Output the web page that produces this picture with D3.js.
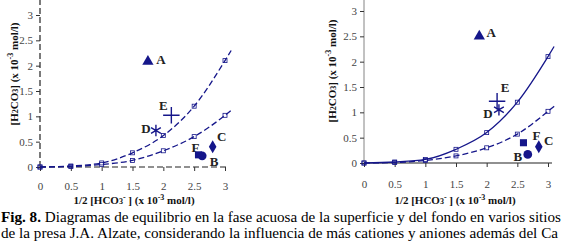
<!DOCTYPE html>
<html>
<head>
<meta charset="utf-8">
<script src="https://cdn.jsdelivr.net/npm/d3@7"></script>
<style>
  body { margin: 0; background: #fff; }
  svg { display: block; }
  svg text { font-family: "Liberation Serif", "Times New Roman", "DejaVu Serif", serif; }
</style>
</head>
<body>
<svg width="562" height="245"></svg>
<script>
// x values shared by the fitted curves
var curveX = [0, 0.5, 1, 1.5, 2, 2.5, 3, 3.1];
// left panel curves (superficie)
var leftUpper = [0, 0.02, 0.08, 0.28, 0.62, 1.2, 2.1, 2.3];
var leftLower = [0, 0.01, 0.05, 0.13, 0.32, 0.6, 1.02, 1.12];
// right panel curves (fondo)
var rightUpper = [0, 0.02, 0.07, 0.27, 0.6, 1.2, 2.1, 2.3];
var rightLower = [0, 0.01, 0.05, 0.14, 0.3, 0.57, 1.02, 1.12];

// sampling sites
var siteNames = ["A", "B", "C", "D", "E", "F"];
var siteShapes = ["triangle", "circle", "diamond", "star", "cross", "square"];
var leftSiteX = [1.75, 2.63, 2.8, 1.88, 2.13, 2.57];
var leftSiteY = [2.08, 0.22, 0.4, 0.72, 1.02, 0.24];
var rightSiteX = [1.88, 2.67, 2.85, 2.2, 2.17, 2.6];
var rightSiteY = [2.5, 0.17, 0.32, 1.05, 1.22, 0.4];

var ticks = [0, 0.5, 1, 1.5, 2, 2.5, 3];
var tickLabels = ["0", "0.5", "1", "1.5", "2", "2.5", "3"];

var blue = "#15168a";
var svg = d3.select("svg");

function panel(opt) {
  var x = d3.scaleLinear().domain([0, 3]).range(opt.xr);
  var y = d3.scaleLinear().domain([0, 3]).range(opt.yr);
  var g = svg.append("g");

  // axes
  var dash = opt.dashedAxes ? "6,3" : null;
  g.append("line")
    .attr("x1", x(0)).attr("x2", x(0))
    .attr("y1", y(0)).attr("y2", opt.yTop)
    .attr("stroke", opt.dashedAxes ? "#222" : "#666").attr("stroke-width", opt.dashedAxes ? 1.2 : 0.8)
    .attr("stroke-dasharray", dash);
  g.append("line")
    .attr("x1", x(0)).attr("x2", x(3) + 4)
    .attr("y1", y(0)).attr("y2", y(0))
    .attr("stroke", "#222").attr("stroke-width", 1.2)
    .attr("stroke-dasharray", dash);

  var xa = g.append("g")
    .attr("transform", "translate(0," + y(0) + ")")
    .call(d3.axisBottom(x).tickValues(ticks).tickSize(4).tickPadding(opt.xPad)
      .tickFormat(function(d, i) { return tickLabels[i]; }));
  var ya = g.append("g")
    .attr("transform", "translate(" + x(0) + ",0)")
    .call(d3.axisLeft(y).tickValues(ticks).tickSize(4).tickPadding(3)
      .tickFormat(function(d, i) { return tickLabels[i]; }));
  [xa, ya].forEach(function(a) {
    a.attr("font-family", null).attr("font-size", 11);
    a.select(".domain").remove();
    a.selectAll("line").attr("stroke", "#333");
    a.selectAll("text").attr("fill", "#444");
  });

  // curves
  var line = d3.line()
    .x(function(d) { return x(d[0]); })
    .y(function(d) { return y(d[1]); })
    .curve(d3.curveMonotoneX);
  [opt.upper, opt.lower].forEach(function(vals, k) {
    var pts = curveX.map(function(v, i) { return [v, vals[i]]; });
    g.append("path")
      .datum(pts)
      .attr("fill", "none")
      .attr("stroke", blue)
      .attr("stroke-width", 1.3)
      .attr("stroke-dasharray", (k === 0 && opt.solidUpper) ? null : "6,3")
      .attr("d", line);
    g.selectAll(null)
      .data(pts.slice(0, 7))
      .enter().append("rect")
      .attr("x", function(d) { return x(d[0]) - 2; })
      .attr("y", function(d) { return y(d[1]) - 2; })
      .attr("width", 4).attr("height", 4)
      .attr("fill", "none").attr("stroke", blue).attr("stroke-width", 0.8);
  });

  // site markers
  var sym = {
    triangle: d3.symbol().type(d3.symbolTriangle).size(55),
    circle: d3.symbol().type(d3.symbolCircle).size(60),
    diamond: d3.symbol().type(d3.symbolDiamond).size(50),
    square: d3.symbol().type(d3.symbolSquare).size(50),
    star: d3.symbol().type(d3.symbolAsterisk).size(90),
    cross: d3.symbol().type(d3.symbolTimes).size(90)
  };
  siteNames.forEach(function(n, i) {
    var px = x(opt.sx[i]), py = y(opt.sy[i]);
    var s = siteShapes[i];
    var p = g.append("path")
      .attr("d", sym[s]())
      .attr("transform", "translate(" + px + "," + py + ")" + (s === "cross" ? " rotate(45)" : ""));
    if (s === "star" || s === "cross") {
      p.attr("fill", "none").attr("stroke", blue).attr("stroke-width", 1.4);
    } else {
      p.attr("fill", blue);
    }
    g.append("text")
      .attr("x", px + opt.lx[i]).attr("y", py + opt.ly[i])
      .attr("text-anchor", "middle")
      .style("font-size", "13px").style("font-weight", "bold")
      .attr("fill", "#222")
      .text(n);
  });

  // axis titles
  var yt = g.append("text")
    .attr("transform", "translate(" + opt.ytX + "," + opt.ytY + ") rotate(-90)")
    .attr("text-anchor", "middle")
    .style("font-size", "11px").style("font-weight", "bold").attr("fill", "#111");
  yt.append("tspan").text("[H");
  yt.append("tspan").attr("font-size", "8px").text("2");
  yt.append("tspan").text("CO");
  yt.append("tspan").attr("font-size", "8px").text("3");
  yt.append("tspan").text("] (x 10");
  yt.append("tspan").attr("font-size", "8px").attr("dy", -5).text("-3");
  yt.append("tspan").attr("dy", 5).text(" mol/l)");

  var xt = g.append("text")
    .attr("x", opt.xtX).attr("y", 204)
    .attr("text-anchor", "middle")
    .style("font-size", "11px").style("font-weight", "bold").attr("fill", "#111");
  xt.append("tspan").text("1/2 [HCO");
  xt.append("tspan").attr("font-size", "8px").text("3");
  xt.append("tspan").attr("font-size", "8px").attr("dy", -4).text("-");
  xt.append("tspan").attr("dy", 4).text(" ] (x 10");
  xt.append("tspan").attr("font-size", "8px").attr("dy", -4).text("-3");
  xt.append("tspan").attr("dy", 4).text(" mol/l)");
}

panel({
  xr: [40, 225], yr: [167, 15], yTop: 0, dashedAxes: true, solidUpper: false, xPad: 11,
  upper: leftUpper, lower: leftLower, sx: leftSiteX, sy: leftSiteY,
  lx: [13, 12, 9, -10, -8, -3], ly: [2, 10, -6, 2, -5, -3],
  ytX: 18, ytY: 74, xtX: 134
});
panel({
  xr: [364, 548], yr: [163, 11], yTop: 0, dashedAxes: false, solidUpper: true, xPad: 13,
  upper: rightUpper, lower: rightLower, sx: rightSiteX, sy: rightSiteY,
  lx: [12, -10, 10, -11, 8, 13], ly: [1, 7, -2, 8, -9, -3],
  ytX: 336, ytY: 71, xtX: 455
});

// caption
var cap = svg.append("text").attr("x", 1).attr("y", 222)
  .attr("textLength", 560).attr("lengthAdjust", "spacingAndGlyphs")
  .style("font-size", "14px").attr("fill", "#000");
cap.append("tspan").style("font-weight", "bold").text("Fig. 8.");
cap.append("tspan").text(" Diagramas de equilibrio en la fase acuosa de la superficie y del fondo en varios sitios");
svg.append("text").attr("x", 1).attr("y", 238)
  .attr("textLength", 557).attr("lengthAdjust", "spacingAndGlyphs")
  .style("font-size", "14px").attr("fill", "#000")
  .text("de la presa J.A. Alzate, considerando la influencia de más cationes y aniones además del Ca");
</script>
</body>
</html>
